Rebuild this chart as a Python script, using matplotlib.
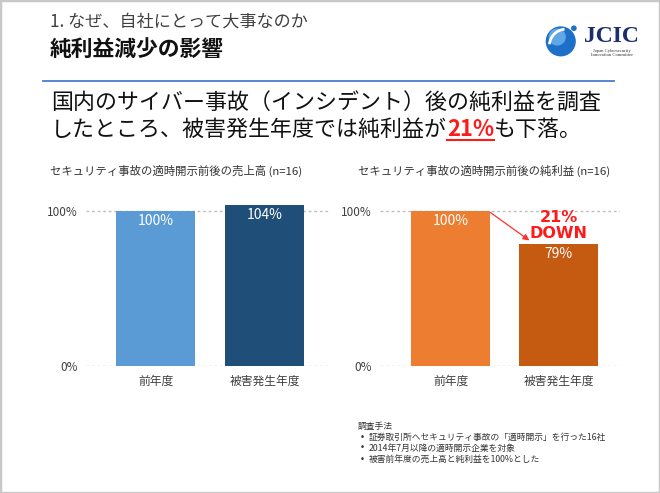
import matplotlib
matplotlib.use("Agg")
import matplotlib.pyplot as plt
from matplotlib.patches import Rectangle, Circle, Arc

plt.rcParams["font.family"] = ["Noto Sans CJK JP", "DejaVu Sans"]

W, H = 660, 493

# data
categories = ["前年度", "被害発生年度"]
sales = [100, 104]
profit = [100, 79]
sales_colors = ["#5B9BD5", "#1F4E79"]
profit_colors = ["#ED7D31", "#C55A11"]
yticks = [0, 100]
ytick_labels = ["0%", "100%"]
sales_title = "セキュリティ事故の適時開示前後の売上高 (n=16)"
profit_title = "セキュリティ事故の適時開示前後の純利益 (n=16)"
drop_label = "21%\nDOWN"
method_title = "調査手法"
method_items = [
    "証券取引所へセキュリティ事故の「適時開示」を行った16社",
    "2014年7月以降の適時開示企業を対象",
    "被害前年度の売上高と純利益を100%とした",
]


def fx(px):
    return px / W


def fy(py):
    return 1 - py / H


fig = plt.figure(figsize=(W / 100, H / 100), dpi=100)
fig.patch.set_facecolor("white")

# slide border
fig.patches.append(Rectangle((0, 0), 1, 1, transform=fig.transFigure,
                             fill=False, edgecolor="#C8C8C8", linewidth=2.5))

# header
fig.text(fx(50), fy(22), "1. なぜ、自社にとって大事なのか", fontsize=12.3,
         color="#404040", va="center")
fig.text(fx(50), fy(49), "純利益減少の影響", fontsize=15.7, weight="bold",
         color="#111111", va="center")
fig.add_artist(plt.Line2D([fx(43), fx(614)], [fy(81), fy(81)],
                          transform=fig.transFigure, color="#4A7BD0", linewidth=1.3))

# logo
logo = fig.add_axes([fx(545), fy(58), fx(35), 35 / H])
logo.set_xlim(-1, 1)
logo.set_ylim(-1, 1)
logo.set_aspect("equal")
logo.axis("off")
logo.add_patch(Circle((-0.1, -0.05), 0.82, color="#1E6FC8"))
logo.add_patch(Circle((-0.3, 0.2), 0.45, color="#5FA8E8"))
logo.add_patch(Arc((0.2, -0.3), 1.9, 1.9, theta1=95, theta2=175, color="white", linewidth=2))
logo.add_patch(Circle((0.65, 0.7), 0.12, color="#1E6FC8"))
fig.text(fx(611), fy(37), "JCIC", fontsize=17, weight="bold", family="Liberation Serif",
         color="#1A2F6B", ha="center", va="center")
fig.text(fx(612), fy(53), "Japan Cybersecurity\nInnovation Committee", fontsize=3.3,
         family="Liberation Serif", color="#333333", ha="center", va="center",
         linespacing=1.1)

# statement
fig.text(fx(51), fy(103), "国内のサイバー事故（インシデント）後の純利益を調査",
         fontsize=15.8, color="#111111", va="center")
fig.canvas.draw()
renderer = fig.canvas.get_renderer()
t1 = fig.text(fx(51), fy(130), "したところ、被害発生年度では純利益が",
              fontsize=15.8, color="#111111", va="center")
x1 = t1.get_window_extent(renderer).x1
t2 = fig.text(x1 / W, fy(130), "21%", fontsize=15.8, color="#FF1A1A",
              weight="bold", va="center")
bb2 = t2.get_window_extent(renderer)
fig.add_artist(plt.Line2D([bb2.x0 / W, bb2.x1 / W], [fy(140), fy(140)],
                          transform=fig.transFigure, color="#FF1A1A", linewidth=1.5))
fig.text(bb2.x1 / W, fy(130), "も下落。", fontsize=15.8, color="#111111", va="center")


def draw_chart(rect, values, colors, xlim, title, title_x):
    ax = fig.add_axes(rect)
    x = list(range(len(values)))
    ax.bar(x, values, width=0.73, color=colors, zorder=2)
    ax.set_xlim(*xlim)
    ax.set_ylim(0, 110)
    ax.set_yticks(yticks)
    ax.set_yticklabels(ytick_labels)
    ax.set_xticks(x)
    ax.set_xticklabels(categories)
    for s in ax.spines.values():
        s.set_visible(False)
    ax.tick_params(axis="y", length=0, pad=6, labelsize=8.5, labelcolor="#404040")
    ax.tick_params(axis="x", length=0, pad=6, labelsize=8.5, labelcolor="#404040")
    for yt in yticks:
        ax.axhline(yt, color="#BFBFBF", linewidth=1, linestyle=(0, (2, 2)), zorder=1)
    for xi, v in zip(x, values):
        ax.annotate(f"{v}%", (xi, v), xytext=(0, -7.5), textcoords="offset points",
                    ha="center", va="center", color="white", fontsize=10)
    ax.patch.set_alpha(0)
    fig.text(fx(title_x), fy(171), title, fontsize=8.2, color="#333333",
             ha="center", va="center")
    return ax


ax_bottom = fy(366)
ax_height = 170.5 / H
draw_chart([fx(86), ax_bottom, fx(244), ax_height], sales, sales_colors,
           (-0.638, 1.601), sales_title, 176)
ax2 = draw_chart([fx(380), ax_bottom, fx(240), ax_height], profit, profit_colors,
                 (-0.653, 1.569), profit_title, 484)

# drop annotation
ax2.annotate("", xy=(0.73, profit[1] + 2), xytext=(0.37, profit[0] - 1),
             arrowprops=dict(arrowstyle="-|>", color="#FF3030", lw=0.9,
                             mutation_scale=9, shrinkA=0, shrinkB=0))
ax2.text(1.0, (profit[0] + profit[1]) / 2 + 1, drop_label, ha="center", va="center",
         color="#FF1A1A", fontsize=11.5, weight="bold", linespacing=1.05,
         family=["DejaVu Sans"])

# method note
fig.text(fx(358), fy(426), method_title, fontsize=6.3, color="#333333", va="center")
for i, item in enumerate(method_items):
    yy = fy(437 + 11 * i)
    fig.text(fx(360), yy, "•", fontsize=6.3, color="#333333", va="center",
             family=["DejaVu Sans"])
    fig.text(fx(369), yy, item, fontsize=6.3, color="#333333", va="center")

fig.savefig("out.png", dpi=100)
